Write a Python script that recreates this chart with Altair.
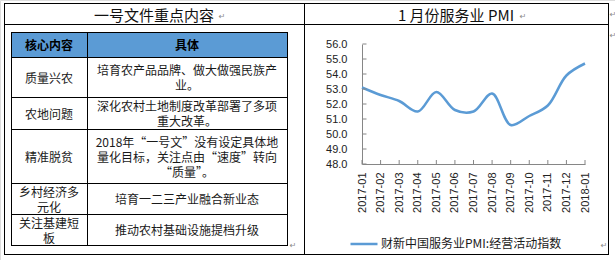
import altair as alt
import pandas as pd

# ---------------- data ----------------
months = ["2017-01", "2017-02", "2017-03", "2017-04", "2017-05", "2017-06", "2017-07",
          "2017-08", "2017-09", "2017-10", "2017-11", "2017-12", "2018-01"]
pmi = [53.1, 52.6, 52.2, 51.5, 52.8, 51.6, 51.5, 52.7, 50.6, 51.2, 51.9, 53.9, 54.7]
series_name = "财新中国服务业PMI:经营活动指数"
y_ticks = [48, 49, 50, 51, 52, 53, 54, 55, 56]

left_title = "一号文件重点内容"
right_title = "1 月份服务业 PMI"
header = ["核心内容", "具体"]
row_keys = [["质量兴农"], ["农地问题"], ["精准脱贫"], ["乡村经济多", "元化"], ["关注基建短", "板"]]
row_details = [
    ["培育农产品品牌、做大做强民族产", "业。"],
    ["深化农村土地制度改革部署了多项", "重大改革。"],
    ["2018年“一号文”没有设定具体地", "量化目标，关注点由“速度”转向", "“质量”。"],
    ["培育一二三产业融合新业态"],
    ["推动农村基础设施提档升级"],
]

# ---------------- layout ----------------
W, H = 615, 260
fx0, fy0, fx1, fy1 = 4, 3, 608, 254
title_line_y = 24
divider_x = 304
tbl_x = [11, 87, 287]
tbl_y = [32, 57, 97, 129, 183, 214, 245]
line_h = 15
blue = "#5B9BD5"
cjk = "Noto Sans CJK SC"
axis_x, axis_x_end = 362, 585
axis_y_top, axis_y_bottom = 44, 164

# frame and table rules
rules = []
def hline(y, x0, x1):
    rules.append({"x": x0, "x2": x1, "y": y + 0.5, "y2": y + 0.5})
def vline(x, y0, y1):
    rules.append({"x": x + 0.5, "x2": x + 0.5, "y": y0, "y2": y1})

hline(fy0, fx0, fx1 + 1)
hline(fy1, fx0, fx1 + 1)
vline(fx0, fy0, fy1 + 1)
vline(fx1, fy0, fy1 + 1)
hline(title_line_y, fx0, fx1 + 1)
vline(divider_x, fy0, fy1 + 1)
for yy in tbl_y:
    hline(yy, tbl_x[0], tbl_x[-1] + 1)
for xx in tbl_x:
    vline(xx, tbl_y[0], tbl_y[-1] + 1)
rules_df = pd.DataFrame(rules)

rule_layer = alt.Chart(rules_df).mark_rule(color="#000000", strokeWidth=1).encode(
    x=alt.X("x:Q", scale=None), x2="x2:Q",
    y=alt.Y("y:Q", scale=None), y2="y2:Q")

header_df = pd.DataFrame([{"x": tbl_x[0], "x2": tbl_x[-1], "y": tbl_y[0], "y2": tbl_y[1]}])
header_rect = alt.Chart(header_df).mark_rect(fill=blue).encode(
    x=alt.X("x:Q", scale=None), x2="x2:Q",
    y=alt.Y("y:Q", scale=None), y2="y2:Q")

# titles
titles_df = pd.DataFrame([
    {"x": (fx0 + divider_x) / 2, "y": 16, "t": left_title},
    {"x": (divider_x + fx1) / 2, "y": 16, "t": right_title},
])
titles = alt.Chart(titles_df).mark_text(font=cjk, fontSize=15, color="#111111",
                                        baseline="middle", align="center").encode(
    x=alt.X("x:Q", scale=None), y=alt.Y("y:Q", scale=None), text="t:N")

# header text
col_cx = [(tbl_x[0] + tbl_x[1]) / 2, (tbl_x[1] + tbl_x[2]) / 2]
head_df = pd.DataFrame([
    {"x": col_cx[0], "y": (tbl_y[0] + tbl_y[1]) / 2 + 1, "t": header[0]},
    {"x": col_cx[1], "y": (tbl_y[0] + tbl_y[1]) / 2 + 1, "t": header[1]},
])
head_text = alt.Chart(head_df).mark_text(font=cjk, fontSize=12, fontWeight="bold",
                                         color="#000000", baseline="middle", align="center").encode(
    x=alt.X("x:Q", scale=None), y=alt.Y("y:Q", scale=None), text="t:N")

# body text (multi-line cells as one text item each; y is the first line)
body = []
for i in range(len(row_keys)):
    cy = (tbl_y[i + 1] + tbl_y[i + 2]) / 2 + 1.5
    for col, lines in ((0, row_keys[i]), (1, row_details[i])):
        n = len(lines)
        body.append({"x": col_cx[col], "y": cy - (n - 1) / 2 * line_h, "t": list(lines)})
body_df = pd.DataFrame(body)
body_text = alt.Chart(body_df).mark_text(font=cjk, fontSize=12, color="#1a1a1a",
                                         lineHeight=line_h,
                                         baseline="middle", align="center").encode(
    x=alt.X("x:Q", scale=None), y=alt.Y("y:Q", scale=None), text="t")

# paragraph marks
marks_df = pd.DataFrame([
    {"x": 222, "y": 17}, {"x": 523, "y": 17}, {"x": 613, "y": 15}, {"x": 613, "y": 36},
    {"x": 293, "y": 246}, {"x": 604, "y": 246},
])
marks_df["t"] = "↵"
para = alt.Chart(marks_df).mark_text(font="DejaVu Sans", fontSize=8, color="#8a8a8a",
                                     baseline="middle", align="center").encode(
    x=alt.X("x:Q", scale=None), y=alt.Y("y:Q", scale=None), text="t:N")

table = alt.layer(header_rect, rule_layer, titles, head_text, body_text, para)

# ---------------- line chart ----------------
x_scale = alt.Scale(type="point", domain=months, range=[axis_x, axis_x_end], padding=0)
y_scale = alt.Scale(domain=[48, 56], range=[axis_y_bottom, axis_y_top], zero=False, nice=False)

x_axis = alt.Axis(orient="bottom", offset=-(H - axis_y_bottom), title=None,
                  labelAngle=-90, ticks=False, tickSize=0, labelPadding=8,
                  labelOverlap=False,
                  domainColor="#868686", labelFont="Liberation Sans",
                  labelFontSize=11, labelColor="#222222", grid=False)
y_axis = alt.Axis(orient="left", offset=-axis_x, title=None, values=y_ticks,
                  tickCount=len(y_ticks),
                  format=".1f", ticks=False, tickSize=0, labelPadding=15,
                  labelOverlap=False,
                  domainColor="#868686", labelFont="Liberation Sans",
                  labelFontSize=11, labelColor="#222222", grid=False)

pmi_df = pd.DataFrame({"month": months, "pmi": pmi, "series": series_name})

line = alt.Chart(pmi_df).mark_line(interpolate="catmull-rom", strokeWidth=2.5).encode(
    x=alt.X("month:O", scale=x_scale, axis=x_axis),
    y=alt.Y("pmi:Q", scale=y_scale, axis=y_axis),
    color=alt.Color("series:N", scale=alt.Scale(range=[blue]),
                    legend=alt.Legend(orient="none", legendX=349, legendY=229, title=None,
                                      symbolType="stroke", symbolSize=729,
                                      symbolStrokeWidth=2.5, labelFont=cjk,
                                      labelFontSize=12, labelColor="#1a1a1a",
                                      labelLimit=400, padding=0, labelOffset=2)),
)

ytick_df = pd.DataFrame({"pmi": y_ticks})
yticks = alt.Chart(ytick_df).mark_rule(color="#868686", strokeWidth=1).encode(
    y=alt.Y("pmi:Q", scale=y_scale, axis=y_axis),
    x=alt.value(axis_x + 0.5), x2=alt.value(axis_x + 4.5))

xtick_df = pd.DataFrame({"month": months})
xticks = alt.Chart(xtick_df).mark_rule(color="#868686", strokeWidth=1).encode(
    x=alt.X("month:O", scale=x_scale, axis=x_axis),
    y=alt.value(axis_y_bottom - 4), y2=alt.value(axis_y_bottom + 0.5))

plot = alt.layer(line, yticks, xticks)

chart = alt.layer(table, plot).resolve_scale(
    x="independent", y="independent"
).properties(
    width=W, height=H, padding=0,
    autosize=alt.AutoSizeParams(type="none"),
).configure_view(stroke=None).configure(background="white")

chart.save("out.html", embed_options={"renderer": "svg", "actions": False})
